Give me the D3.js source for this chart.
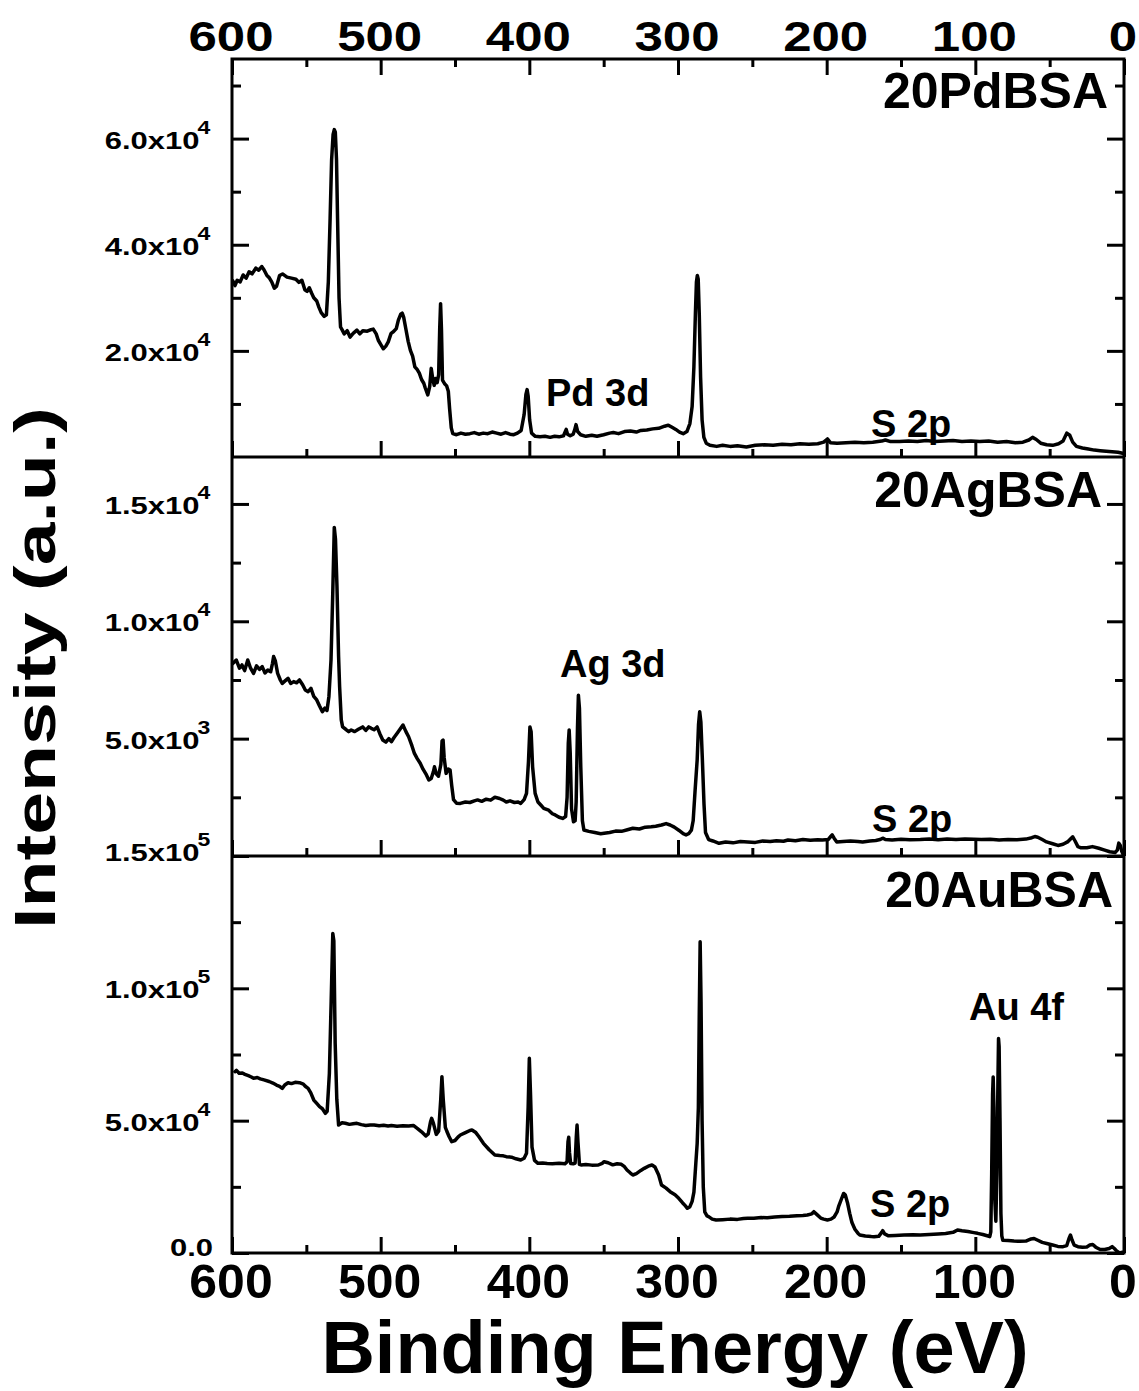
<!DOCTYPE html>
<html>
<head>
<meta charset="utf-8">
<script src="https://cdn.jsdelivr.net/npm/d3@7"></script>
<style>
  body { margin: 0; background: #fff; }
  svg { display: block; }
  text { font-family: "Liberation Sans", Arial, sans-serif; font-weight: bold; fill: #000; }
</style>
</head>
<body>
<svg id="chart" width="1139" height="1391"></svg>
<script>
// XPS survey spectra, each point is [binding energy (eV), intensity (counts)]
const pdSpectrum = [
  [599.5,33200],[598,32300],[596.5,33300],[594.5,33000],[592.5,34300],[590.5,33700],[588.5,34900],[586.5,34500],
  [584,35600],[582,35200],[580,35900],[578.5,35300],[576.5,34200],[575,33800],[573.3,33000],[571.5,31800],
  [570,32200],[568,34200],[566,34500],[563,33900],[560,33700],[557,33500],[555,32900],[553,33300],[551,31500],
  [549.5,31200],[548,31900],[546.5,30900],[545,30000],[543,29400],[541.5,28200],[540,27200],[538,26500],
  [536.5,26800],[535.2,33000],[534,45000],[533,56000],[532,60800],[531.2,61700],[530.5,61200],[529.7,56000],
  [529,45000],[528,30000],[527,24500],[526,24000],[524.5,23200],[522.5,23800],[520.6,22600],[518.5,23300],
  [516,23900],[514,23200],[512,23800],[509,23700],[506.5,24000],[505,24100],[503,23200],[501.6,22000],
  [499.5,21000],[498.2,20400],[496.5,20900],[494.9,21700],[493,23300],[491.5,23600],[489.5,24200],[488.1,25800],
  [486.5,26900],[485.5,27100],[484.5,26300],[483.3,24500],[481.5,21800],[480,20100],[478.5,19000],[477,17000],
  [475.5,16500],[474,15800],[472.5,14600],[471,13900],[470,13000],[468.3,11700],[467,13300],[466,16700],
  [465,14800],[464,13500],[463,14800],[462,14000],[461,15500],[460.3,24000],[459.7,28900],[459.1,24000],
  [458.4,14500],[457,13800],[455.6,13400],[454.5,12400],[453.6,9000],[452.5,5500],[451.5,4400],[449,4200],
  [446,4500],[443,4300],[440,4400],[437,4600],[434,4300],[431,4500],[428,4400],[425,4700],[422,4500],
  [419,4300],[416,4600],[413,4300],[410.5,4200],[408,4500],[405.5,5000],[403.5,8000],[402.3,11800],
  [401.5,12700],[400.8,11500],[399.8,7000],[398.5,4500],[396,3900],[392.8,3800],[389.5,3900],[386,3700],
  [383,3900],[380,3800],[377,4000],[375.2,5200],[374.3,4300],[372.5,4000],[370.5,4300],[369.5,5100],
  [368.6,6100],[367.5,4800],[365.5,4200],[362,3900],[358,4100],[354.5,3900],[350,4200],[346,4500],
  [343.5,4600],[340,4400],[336,4800],[332,4900],[328,4700],[325,5000],[321,5100],[317,5300],[313,5400],
  [309,5800],[306.5,6000],[304,5600],[301.5,5200],[299,4700],[296.5,4400],[294,4800],[292,6300],[290.5,9500],
  [289.3,17000],[288.3,27000],[287.6,33000],[287,34200],[286.4,33500],[285.7,27000],[284.8,15000],[283.8,7000],
  [282.6,3700],[281,2600],[278.5,2200],[274,2000],[270,2200],[265,2000],[260,2100],[254,1900],[248,2200],
  [242,2300],[236,2200],[230,2400],[224,2300],[218,2500],[212,2400],[206,2500],[202,2800],[199.5,3400],
  [197.5,2700],[193,2600],[187,2700],[181,2800],[175,2700],[169,2800],[163,3000],[160.5,3200],[157,2900],
  [151,2900],[145,3000],[139,2900],[133,3100],[127,2900],[121,3000],[115,3100],[109,2900],[103,3000],
  [97,2900],[91,3000],[85,2800],[79,2900],[73,2700],[68,2800],[64,3200],[61.5,3700],[59,3300],[56,2600],
  [52,2300],[48,2200],[44,2500],[41,3000],[38.5,4500],[36.5,4100],[34.5,2800],[32,2000],[28,1700],
  [24,1500],[20,1300],[16,1200],[12,1100],[8,1000],[4,900],[1,700]
];

const agSpectrum = [
  [599.5,8200],[597.1,8350],[595,8000],[593.3,8140],[591.5,7900],[589.4,8350],[587.5,8000],[585.5,7780],
  [583.5,8100],[581.5,7950],[579.7,8070],[577.8,7800],[575.9,7920],[574,7850],[572.8,8200],[572,8500],
  [570.8,8300],[569.3,7780],[567.5,7500],[566.2,7350],[564.5,7450],[562.3,7570],[560.5,7350],[558.5,7430],
  [556.5,7380],[554.6,7500],[552.5,7300],[550.7,7070],[548.8,7000],[546.9,7140],[545,6800],[543,6650],
  [541.2,6400],[539.2,6150],[537.5,6300],[536.1,6200],[534.8,6800],[533.4,8350],[532.3,11000],[531.2,14000],
  [530.4,13500],[529.4,11500],[528.3,8500],[527.6,7200],[526.5,5800],[525.6,5500],[523.5,5400],[521.5,5300],
  [519.8,5370],[517.5,5300],[515,5400],[512.1,5500],[510,5350],[508,5500],[506.3,5440],[504.4,5380],
  [502.4,5500],[500.5,5200],[498.6,4940],[496.5,4850],[494.5,5000],[492.8,4870],[491,5050],[488.9,5230],
  [487,5400],[485,5580],[483,5300],[481.2,5080],[479,4700],[477.3,4370],[475.4,4150],[473.4,3950],
  [471.5,3700],[469.6,3500],[467.6,3240],[466,3300],[464.5,3600],[463.8,3800],[462.6,3500],[461.1,3400],
  [459.5,3900],[458.7,4900],[458,4940],[457.3,4200],[456,3520],[454.5,3700],[453.3,3660],[452.2,3000],
  [451,2400],[449,2250],[446.4,2240],[443,2300],[440,2280],[437,2350],[434.8,2390],[432,2330],[429,2420],
  [426,2380],[423.2,2500],[420,2450],[417.5,2380],[415.5,2300],[413,2350],[410,2280],[407.5,2300],
  [405.8,2240],[403.5,2400],[401.9,2670],[400.6,4000],[399.6,5500],[398.8,5300],[397.8,3800],[396.1,2670],
  [394.2,2300],[392,2150],[390.3,2030],[387,1950],[384.5,1800],[382.6,1750],[380,1650],[377.6,1600],
  [375.6,1680],[374.6,2500],[373.8,4800],[373.2,5370],[372.5,4400],[371.6,2000],[370.3,1460],[369.2,1500],
  [368.5,2300],[367.6,5500],[367,6850],[366.3,6300],[365.4,3800],[364.3,1500],[363.3,1110],[360,1050],
  [356,1000],[352,950],[349.7,970],[346,1000],[342,1060],[338,1050],[334,1120],[330.4,1180],[326,1150],
  [322,1230],[318,1250],[315,1270],[311.1,1320],[308,1380],[305.3,1320],[302.5,1230],[299.5,1100],
  [296.5,950],[294.6,900],[292.8,950],[291,1100],[289.8,1500],[288.5,2800],[287.1,4100],[286.2,5600],
  [285.4,6150],[284.6,5700],[283.6,4100],[282.5,2200],[281.5,1000],[279.4,700],[276.5,640],[272.4,540],
  [268,600],[263,560],[258,620],[253.1,600],[248,580],[243,640],[238,620],[233.8,650],[229,630],[226,680],
  [221,650],[216,700],[211,670],[206,690],[202.9,680],[199,700],[197.4,820],[196.3,900],[195,760],
  [193.2,600],[189,620],[184,640],[179,620],[175.8,600],[171,640],[167,660],[164,700],[162.3,760],
  [160.5,700],[156,680],[150,710],[144,690],[137,700],[131,720],[125,690],[119,720],[113,700],[107,720],
  [101,710],[96,700],[90,710],[84,680],[78,700],[72,690],[66,720],[62,780],[60,830],[58,800],[55,700],
  [52.1,600],[48,520],[44.4,450],[41,500],[38,600],[35.5,760],[34.5,820],[33,650],[31,400],[28.9,350],
  [25,350],[21.2,400],[17,330],[13,250],[9.6,180],[6,150],[4.5,250],[3.5,550],[2.5,450],[1.5,200],[0.5,50]
];

const auSpectrum = [
  [598,68500],[597,69000],[595.2,67900],[593,68000],[591.3,67500],[589,67000],[587,66500],[585.5,66000],
  [583,66300],[581,65800],[578.5,65400],[575,64800],[572.5,64200],[570.1,63470],[568,63000],[566.2,62210],
  [564.5,63500],[562.3,64350],[560,64000],[557.5,64500],[554.6,64350],[552,63800],[550.7,63000],[548.8,62210],
  [547,60500],[545,57800],[543,56500],[541.1,55280],[539.2,54500],[537.2,52760],[536,53500],[534.5,67880],
  [533.3,95000],[532.2,120700],[531.5,118000],[530.6,79210],[529.5,58000],[528.3,48360],[526,49200],
  [523.7,49000],[521,48600],[518.5,48800],[516,49000],[513,48500],[510,48200],[507,48400],[504.4,48360],
  [501,48100],[498,48300],[495,48000],[492.8,48200],[489,47900],[485,48100],[481.2,48000],[478,48200],
  [475.4,47100],[472.5,45800],[469.6,44200],[468,45000],[466.5,49500],[465.7,50880],[464.5,49000],
  [462.6,44830],[461,46000],[459.6,58000],[458.8,66610],[457.9,58000],[456.5,47500],[455.5,46000],
  [454,44000],[452.2,42050],[450,42500],[448,43800],[446.4,44580],[443,45500],[440,46300],[438.6,46470],
  [436,45500],[434,44000],[430.9,41430],[427,39000],[423.2,37020],[420,36800],[417.5,36700],[415.5,36400],
  [412,36200],[409,35600],[405.8,35140],[403.5,35800],[401.9,37650],[400.8,55000],[400,73550],[399.2,60000],
  [398.2,40000],[396.5,35000],[394.2,33870],[391,34000],[388,33800],[384.5,33750],[380,33900],[376,33700],
  [374.6,34500],[374,42000],[373.5,43700],[373,38000],[372.2,33800],[370.5,33700],[369.2,34000],[368.4,44000],
  [367.9,48360],[367.3,42000],[366.3,33500],[365.2,33250],[362,33400],[358,33200],[353.6,33250],[351,33900],
  [349.7,34500],[347,34100],[343.9,33300],[341,33700],[338.1,33500],[336,32600],[334.3,31360],[332,30200],
  [330.4,29470],[328,30000],[325,31200],[322.7,31990],[320,32800],[317.5,33250],[315.5,32500],[313,29500],
  [311.1,25690],[308,24500],[305.3,23170],[302,22000],[299.5,20660],[297,19000],[295,17800],[293.7,16890],
  [292,17500],[290.5,19500],[289.3,23000],[288,34000],[287.1,41430],[286.3,55000],[285.7,90000],
  [285.1,117600],[284.5,95000],[283.8,50000],[283,25000],[282,15500],[280.5,14000],[279.4,13730],[277,12800],
  [274.4,12470],[270,12600],[265,12800],[260,12700],[256,13000],[253.1,13100],[249,13100],[244,13400],
  [240,13300],[235,13600],[230,13800],[225,13900],[220,14100],[216,14200],[213,14360],[210,14800],
  [208.6,15610],[206.5,14500],[204,13200],[202,12800],[199.5,12500],[197.1,12800],[195,13600],[193,15500],
  [192,17500],[190,20500],[188.6,22500],[187.5,22000],[186,19000],[184.5,15000],[183,11500],[181,9000],
  [179,7500],[177.7,6800],[174,6400],[170,6200],[168.1,6170],[165,6300],[163,7800],[162.3,8440],[161,7200],
  [158.4,6500],[154,6600],[148,6800],[142,6900],[137.1,6800],[131,7000],[125,7200],[120,7400],[115,7800],
  [112,8690],[109,8400],[105,8100],[101,7700],[98.5,7430],[95,7000],[92,6500],[90.3,6200],[89.6,8000],
  [89,30000],[88.4,60000],[88,66500],[87.5,55000],[86.9,20000],[86.2,12000],[85.5,30000],[84.8,65000],
  [84.4,81000],[84,78000],[83.4,50000],[82.8,15000],[82.2,6500],[81.5,4800],[78,4700],[74,4500],[70,4400],
  [66,4500],[62.5,5300],[60.5,5500],[58,4800],[55,4000],[52,3600],[48,3000],[44.5,2500],[41,2400],
  [38.5,2800],[37,5500],[36,6800],[35,5000],[33.5,3000],[31,2400],[28,2200],[25,2300],[23,3000],[21,3200],
  [19,2200],[16,1300],[13,1300],[10,1700],[8,2400],[6.5,1700],[5,800],[3,0],[1,300]
];

// Sample names and axis ticks
const sampleNames = ["20PdBSA", "20AgBSA", "20AuBSA"];
const energyTicks = [600, 500, 400, 300, 200, 100, 0];
const energyMinorTicks = [550, 450, 350, 250, 150, 50];

const pdMax = 75000;
const pdTicks = [20000, 40000, 60000];
const pdTickLabels = ["2.0x10^4", "4.0x10^4", "6.0x10^4"];
const pdMinorTicks = [10000, 30000, 50000, 70000];

const agMax = 17000;
const agTicks = [5000, 10000, 15000];
const agTickLabels = ["5.0x10^3", "1.0x10^4", "1.5x10^4"];
const agMinorTicks = [2500, 7500, 12500];

const auMax = 150000;
const auTicks = [0, 50000, 100000, 150000];
const auTickLabels = ["0.0", "5.0x10^4", "1.0x10^5", "1.5x10^5"];
const auMinorTicks = [25000, 75000, 125000];

const peakLabels = [
  ["Pd 3d", "S 2p"],
  ["Ag 3d", "S 2p"],
  ["Au 4f", "S 2p"]
];

// ---- layout ----
const plotLeft = 232, plotRight = 1124;
const panelEdges = [59, 457, 856, 1253];
const majorLen = 17, minorLen = 9, xMajorLen = 16, xMinorLen = 8;
const lineWidth = 3.5, frameWidth = 3;
const nameLayout = [{x: 1108, y: 108}, {x: 1102, y: 507}, {x: 1113, y: 907}];
const peakLayout = [
  [{x: 546, y: 406}, {x: 871, y: 437}],
  [{x: 560, y: 677}, {x: 872, y: 832}],
  [{x: 969, y: 1020}, {x: 870, y: 1217}]
];

const panels = [
  {data: pdSpectrum, max: pdMax, ticks: pdTicks, labels: pdTickLabels, minor: pdMinorTicks},
  {data: agSpectrum, max: agMax, ticks: agTicks, labels: agTickLabels, minor: agMinorTicks},
  {data: auSpectrum, max: auMax, ticks: auTicks, labels: auTickLabels, minor: auMinorTicks}
];

const svg = d3.select("#chart");
const x = d3.scaleLinear().domain([600, 0]).range([plotLeft, plotRight]);

function styleAxis(sel) {
  sel.select(".domain").remove();
  sel.selectAll(".tick line").attr("stroke", "#000").attr("stroke-width", frameWidth);
  sel.selectAll(".tick text").remove();
}

panels.forEach((p, i) => {
  const top = panelEdges[i], bottom = panelEdges[i + 1];
  const y = d3.scaleLinear().domain([0, p.max]).range([bottom, top]);

  // spectrum trace
  svg.append("path")
    .datum(p.data)
    .attr("fill", "none")
    .attr("stroke", "#000")
    .attr("stroke-width", lineWidth)
    .attr("stroke-linejoin", "round")
    .attr("stroke-linecap", "round")
    .attr("d", d3.line().x(d => x(d[0])).y(d => y(d[1])));

  // inward ticks on the left and right edges
  const addY = (axisFn, xPos, values, len) => {
    svg.append("g").attr("transform", `translate(${xPos},0)`)
      .call(axisFn(y).tickValues(values).tickSize(-len)).call(styleAxis);
  };
  addY(d3.axisLeft, plotLeft, p.ticks, majorLen);
  addY(d3.axisLeft, plotLeft, p.minor, minorLen);
  addY(d3.axisRight, plotRight, p.ticks, majorLen);
  addY(d3.axisRight, plotRight, p.minor, minorLen);

  // energy ticks pointing up from the panel's bottom edge
  svg.append("g").attr("transform", `translate(0,${bottom})`)
    .call(d3.axisBottom(x).tickValues(energyTicks).tickSize(-xMajorLen)).call(styleAxis);
  svg.append("g").attr("transform", `translate(0,${bottom})`)
    .call(d3.axisBottom(x).tickValues(energyMinorTicks).tickSize(-xMinorLen)).call(styleAxis);

  // intensity tick labels, mantissa with a raised exponent
  p.ticks.forEach((v, j) => {
    const parts = p.labels[j].split("^");
    const edge = (v === 0 || v === p.max);
    const base = y(v) + (v === 0 ? 3 : edge ? 5 : 10);
    if (parts.length === 2) {
      svg.append("text")
        .attr("transform", `translate(199.5,${base}) scale(1,0.78)`)
        .attr("text-anchor", "end")
        .style("font-size", "31px")
        .text(parts[0]);
      svg.append("text")
        .attr("transform", `translate(197.5,${base - 15}) scale(1,0.78)`)
        .style("font-size", "23px")
        .text(parts[1]);
    } else {
      svg.append("text")
        .attr("transform", `translate(213,${base}) scale(1,0.78)`)
        .attr("text-anchor", "end")
        .style("font-size", "31px")
        .text(parts[0]);
    }
  });

  // sample name
  svg.append("text")
    .attr("x", nameLayout[i].x).attr("y", nameLayout[i].y)
    .attr("text-anchor", "end")
    .style("font-size", "50px")
    .text(sampleNames[i]);

  // peak assignments
  peakLabels[i].forEach((t, j) => {
    svg.append("text")
      .attr("x", peakLayout[i][j].x).attr("y", peakLayout[i][j].y)
      .style("font-size", "38px")
      .text(t);
  });
});

// top energy axis with ticks pointing down
svg.append("g").attr("transform", `translate(0,${panelEdges[0]})`)
  .call(d3.axisTop(x).tickValues(energyTicks).tickSize(-xMajorLen)).call(styleAxis);
svg.append("g").attr("transform", `translate(0,${panelEdges[0]})`)
  .call(d3.axisTop(x).tickValues(energyMinorTicks).tickSize(-xMinorLen)).call(styleAxis);

// energy tick labels, top and bottom
energyTicks.forEach(v => {
  svg.append("text")
    .attr("transform", `translate(${x(v) - 1},50.7) scale(1,0.84)`)
    .attr("text-anchor", "middle")
    .style("font-size", "51px")
    .text(v);
  svg.append("text")
    .attr("transform", `translate(${x(v) - 1},1298.3) scale(1,0.97)`)
    .attr("text-anchor", "middle")
    .style("font-size", "50px")
    .text(v);
});

// frame: outer box plus panel separators
const frame = svg.append("g").attr("fill", "none").attr("stroke", "#000").attr("stroke-width", frameWidth);
frame.append("rect")
  .attr("x", plotLeft).attr("y", panelEdges[0])
  .attr("width", plotRight - plotLeft).attr("height", panelEdges[3] - panelEdges[0]);
[panelEdges[1], panelEdges[2]].forEach(e => {
  frame.append("line").attr("x1", plotLeft).attr("x2", plotRight).attr("y1", e).attr("y2", e);
});

// axis titles
svg.append("text")
  .attr("transform", "translate(675,1373)")
  .attr("text-anchor", "middle")
  .style("font-size", "74px")
  .text("Binding Energy (eV)");
svg.append("text")
  .attr("transform", "translate(55,668) rotate(-90) scale(1,0.75)")
  .attr("text-anchor", "middle")
  .style("font-size", "77px")
  .text("Intensity (a.u.)");
</script>
</body>
</html>
